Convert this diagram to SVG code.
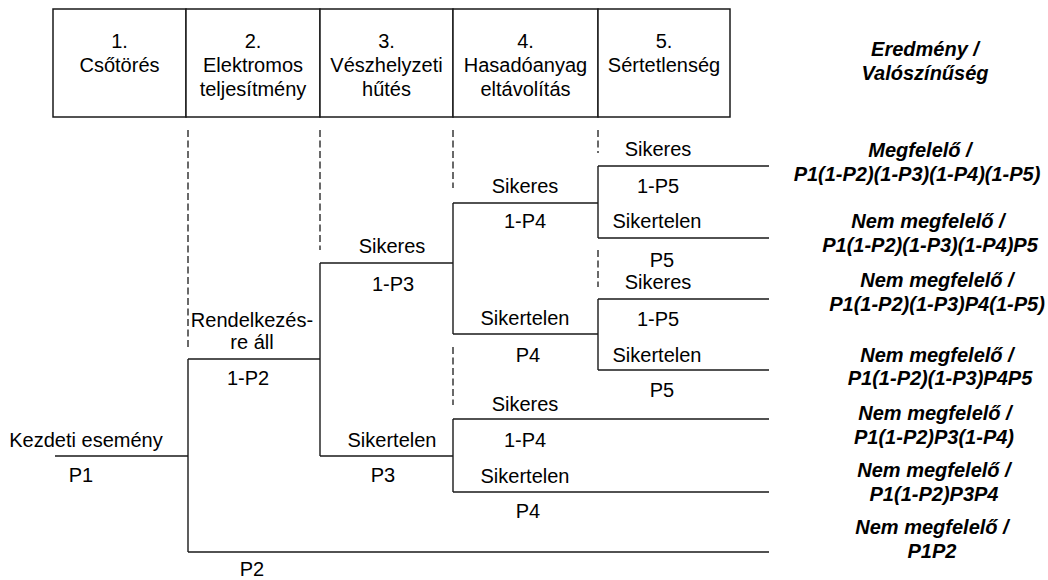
<svg xmlns="http://www.w3.org/2000/svg" width="1048" height="580" viewBox="0 0 1048 580">
<style>
text{font-family:"Liberation Sans",Arial,sans-serif;font-size:20px;fill:#000;text-anchor:middle}
.o{font-weight:bold;font-style:italic}
.ln{stroke:#1a1a1a;stroke-width:1.4;fill:none}
.ds{stroke:#1a1a1a;stroke-width:1.3;fill:none;stroke-dasharray:7 3.5}
.bx{stroke:#1a1a1a;stroke-width:1.5;fill:#fff}
</style>
<rect width="1048" height="580" fill="#fff"/>
<g id="header">
<g id="h1"><rect class="bx" x="53" y="9" width="133" height="108"/><text x="119.5" y="48">1.</text><text x="119.5" y="72">Csőtörés</text></g>
<g id="h2"><rect class="bx" x="186" y="9" width="134" height="108"/><text x="253" y="48">2.</text><text x="253" y="72">Elektromos</text><text x="253" y="96">teljesítmény</text></g>
<g id="h3"><rect class="bx" x="320" y="9" width="133" height="108"/><text x="386.5" y="48">3.</text><text x="386.5" y="72">Vészhelyzeti</text><text x="386.5" y="96">hűtés</text></g>
<g id="h4"><rect class="bx" x="453" y="9" width="145" height="108"/><text x="525.5" y="48">4.</text><text x="525.5" y="72">Hasadóanyag</text><text x="525.5" y="96">eltávolítás</text></g>
<g id="h5"><rect class="bx" x="598" y="9" width="132" height="108"/><text x="664" y="48">5.</text><text x="664" y="72">Sértetlenség</text></g>
<g id="h6"><text class="o" x="925" y="56">Eredmény /</text><text class="o" x="925" y="80">Valószínűség</text></g>
</g>
<g id="connectors">
<path class="ds" d="M188 130V348M320 130V250M453 130V188M598 130V153M598 250V287M453 347V405"/>
<path class="ln" d="M55 456H188M188 359V552M188 359H320M188 552H769M320 263V456M320 263H453M320 456H453M453 203V334M453 203H598M453 334H598M453 419V492M453 419H769M453 492H769M598 166V238M598 166H769M598 238H769M598 299V370M598 299H769M598 370H769"/>
</g>
<g id="labels">
<text x="86" y="447">Kezdeti esemény</text>
<text x="81" y="482">P1</text>
<text x="252" y="327">Rendelkezés-</text>
<text x="252" y="349">re áll</text>
<text x="248" y="385">1-P2</text>
<text x="252" y="576">P2</text>
<text x="392" y="253">Sikeres</text>
<text x="393" y="291">1-P3</text>
<text x="392" y="447">Sikertelen</text>
<text x="383" y="482">P3</text>
<text x="525" y="193">Sikeres</text>
<text x="525" y="228">1-P4</text>
<text x="525" y="325">Sikertelen</text>
<text x="528" y="362">P4</text>
<text x="525" y="411">Sikeres</text>
<text x="525" y="447">1-P4</text>
<text x="525" y="483">Sikertelen</text>
<text x="528" y="518">P4</text>
<text x="658" y="156">Sikeres</text>
<text x="658" y="193">1-P5</text>
<text x="657" y="228">Sikertelen</text>
<text x="662" y="267">P5</text>
<text x="658" y="289">Sikeres</text>
<text x="658" y="326">1-P5</text>
<text x="657" y="362">Sikertelen</text>
<text x="662" y="397">P5</text>
</g>
<g id="outcomes">
<g id="out1"><text class="o" x="920" y="157">Megfelelő /</text><text class="o" x="917" y="181">P1(1-P2)(1-P3)(1-P4)(1-P5)</text></g>
<g id="out2"><text class="o" x="928" y="228">Nem megfelelő /</text><text class="o" x="930" y="252">P1(1-P2)(1-P3)(1-P4)P5</text></g>
<g id="out3"><text class="o" x="937" y="287">Nem megfelelő /</text><text class="o" x="937" y="311">P1(1-P2)(1-P3)P4(1-P5)</text></g>
<g id="out4"><text class="o" x="937" y="362">Nem megfelelő /</text><text class="o" x="940" y="385">P1(1-P2)(1-P3)P4P5</text></g>
<g id="out5"><text class="o" x="935" y="420">Nem megfelelő /</text><text class="o" x="934" y="444">P1(1-P2)P3(1-P4)</text></g>
<g id="out6"><text class="o" x="934" y="477">Nem megfelelő /</text><text class="o" x="934" y="501">P1(1-P2)P3P4</text></g>
<g id="out7"><text class="o" x="932" y="534">Nem megfelelő /</text><text class="o" x="932" y="558">P1P2</text></g>
</g>
</svg>
